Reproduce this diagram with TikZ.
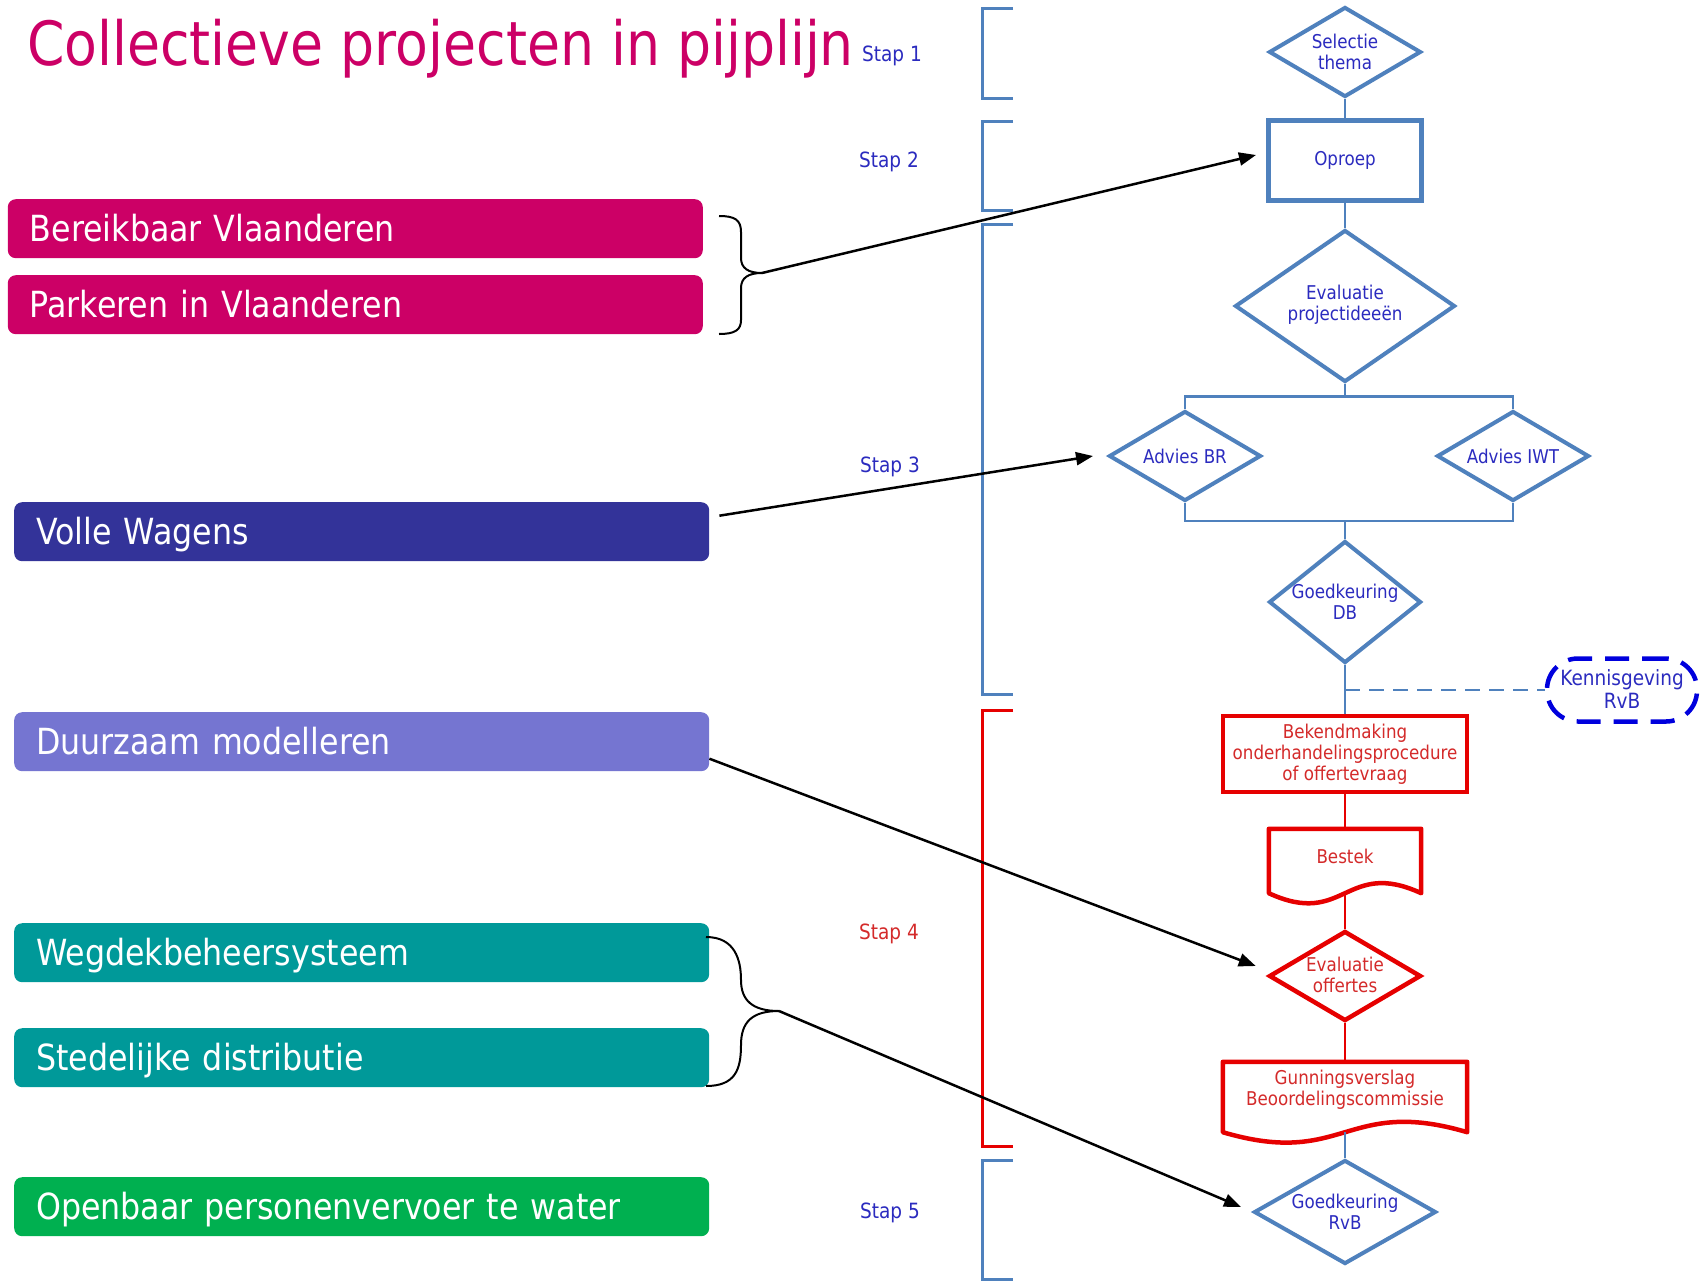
\documentclass[tikz,border=0pt]{standalone}
\usepackage{fontspec}
\setmainfont{DejaVu Sans}[FakeStretch=0.88]
\usetikzlibrary{shapes.geometric,arrows.meta,calc}
\definecolor{cmag}{HTML}{CC0066}
\definecolor{cnavy}{HTML}{333399}
\definecolor{clav}{HTML}{7575D1}
\definecolor{cteal}{HTML}{009999}
\definecolor{cgreen}{HTML}{00B050}
\definecolor{csteel}{HTML}{4F81BD}
\definecolor{ctxtblue}{HTML}{2B2BBF}
\definecolor{cred}{HTML}{E60000}
\definecolor{ctxtred}{HTML}{D42A2A}
\definecolor{ckenn}{HTML}{0000DD}
\begin{document}
\begin{tikzpicture}[x=1pt,y=-1pt,
  cbox/.style={anchor=north west, rounded corners=8pt, minimum width=695pt, minimum height=59pt,
    text width=651pt, inner xsep=22pt, inner ysep=0pt, align=left, text=white,
    font=\fontsize{36}{40}\selectfont, text height=26pt, text depth=0pt},
  staplbl/.style={font=\fontsize{21}{24}\selectfont, text=ctxtblue, inner sep=0pt},
  bdia/.style={diamond, draw=csteel, line width=4pt, inner sep=0pt},
  rdia/.style={diamond, draw=cred, line width=4.5pt, inner sep=0pt},
  btxt/.style={font=\fontsize{19}{21}\selectfont, text=ctxtblue, align=center, inner sep=0pt},
  rtxt/.style={font=\fontsize{19}{21}\selectfont, text=ctxtred, align=center, inner sep=0pt},
  bconn/.style={draw=csteel, line width=2.5pt},
  rconn/.style={draw=cred, line width=2.5pt},
  bbrk/.style={draw=csteel, line width=3pt},
  rbrk/.style={draw=cred, line width=3pt},
  arr/.style={draw=black, line width=2.5pt, -{Triangle[length=17pt,width=13pt]}},
  bracestyle/.style={draw=black, line width=2pt},
  docshape/.style={draw=cred, line width=4.5pt, line join=round}
]
\fill[white] (0,0) rectangle (1708,1282);
\useasboundingbox (0,0) rectangle (1708,1282);

% title
\node[anchor=base west, inner sep=0pt, text=cmag, font=\fontsize{61}{67}\selectfont] (title) at (27,65) {Collectieve projecten in pijplijn};

% coloured boxes
\node[cbox, fill=cmag] (bv) at (7.6,199) {Bereikbaar Vlaanderen};
\node[cbox, fill=cmag] (pv) at (7.6,275) {Parkeren in Vlaanderen};
\node[cbox, fill=cnavy] (vw) at (14,502) {Volle Wagens};
\node[cbox, fill=clav] (dm) at (14,712) {Duurzaam modelleren};
\node[cbox, fill=cteal] (wb) at (14,923) {Wegdekbeheersysteem};
\node[cbox, fill=cteal] (sd) at (14,1028) {Stedelijke distributie};
\node[cbox, fill=cgreen] (op) at (14,1177) {Openbaar personenvervoer te water};

% stap labels
\node[staplbl] (s1) at (892,56) {Stap 1};
\node[staplbl] (s2) at (889,162) {Stap 2};
\node[staplbl] (s3) at (890,467) {Stap 3};
\node[staplbl, text=ctxtred] (s4) at (889,934) {Stap 4};
\node[staplbl] (s5) at (890,1213) {Stap 5};

% brackets
\draw[bbrk] (1013,8) -- (982.5,8) -- (982.5,98) -- (1013,98);
\draw[bbrk] (1013,121) -- (982.5,121) -- (982.5,210) -- (1013,210);
\draw[bbrk] (1013,224) -- (982.5,224) -- (982.5,694) -- (1013,694);
\draw[rbrk] (1013,710) -- (982.5,710) -- (982.5,1146) -- (1013,1146);
\draw[bbrk] (1013,1160) -- (982.5,1160) -- (982.5,1279) -- (1013,1279);

% flow shapes
\node[bdia, minimum width=152pt, minimum height=90pt] (sel) at (1345,52) {};
\node[btxt] (selt) at (1345,52) {Selectie\\thema};
\node[draw=csteel, line width=5pt, minimum width=153pt, minimum height=80pt, inner sep=0pt] (opr) at (1345,160) {};
\node[btxt] (oprt) at (1345,160) {Oproep};
\node[bdia, minimum width=220pt, minimum height=152pt] (evp) at (1345,306) {};
\node[btxt] (evpt) at (1345,305) {Evaluatie\\projectideeën};
\node[bdia, minimum width=152pt, minimum height=90pt] (abr) at (1185,456) {};
\node[btxt] (abrt) at (1185,456) {Advies BR};
\node[bdia, minimum width=152pt, minimum height=90pt] (aiwt) at (1513,456) {};
\node[btxt] (aiwtt) at (1513,456) {Advies IWT};
\node[bdia, minimum width=152pt, minimum height=122pt] (gdb) at (1345,602) {};
\node[btxt] (gdbt) at (1345,602) {Goedkeuring\\DB};
\node[draw=ckenn, line width=4.5pt, dash pattern=on 24pt off 13pt, rounded corners=31pt,
      minimum width=150pt, minimum height=63pt, inner sep=0pt] (kenn) at (1622,690) {};
\node[btxt, font=\fontsize{21}{23}\selectfont] (kennt) at (1622,689) {Kennisgeving\\RvB};
\node[draw=cred, line width=4.5pt, minimum width=244pt, minimum height=76pt, inner sep=0pt] (bek) at (1345,754) {};
\node[rtxt] (bekt) at (1345,754) {Bekendmaking\\onderhandelingsprocedure\\of offertevraag};
\node[minimum width=152pt, minimum height=64pt, inner sep=0pt] (bes) at (1345,861) {};
\node[rtxt] (best) at (1345,856) {Bestek};
\node[rdia, minimum width=152pt, minimum height=90pt] (evo) at (1345,976) {};
\node[rtxt] (evot) at (1345,975) {Evaluatie\\offertes};
\node[minimum width=244pt, minimum height=70pt, inner sep=0pt] (gun) at (1345,1097) {};
\node[rtxt] (gunt) at (1345,1090) {Gunningsverslag\\Beoordelingscommissie};
\node[bdia, minimum width=182pt, minimum height=104pt] (grvb) at (1345,1212) {};
\node[btxt] (grvbt) at (1345,1212) {Goedkeuring\\RvB};

% document shapes
\draw[docshape] (bes.south west) -- (bes.north west) -- (bes.north east) -- (bes.south east)
  .. controls ($(bes.south east)+(-76,-35)$) and ($(bes.south west)+(76,35)$) .. (bes.south west) -- cycle;
\draw[docshape] (gun.south west) -- (gun.north west) -- (gun.north east) -- (gun.south east)
  .. controls ($(gun.south east)+(-122,-36)$) and ($(gun.south west)+(122,36)$) .. (gun.south west) -- cycle;

% connectors
\coordinate (splitL) at (1185,396.5);
\coordinate (splitR) at (1513,396.5);
\coordinate (mergeL) at (1185,521);
\coordinate (mergeR) at (1513,521);
\draw[bconn] (sel.south) -- (opr.north);
\draw[bconn] (opr.south) -- (evp.north);
\draw[bconn] (evp.south) -- (evp.south |- splitL);
\draw[bconn] (abr.north) -- (splitL) -- (splitR) -- (aiwt.north);
\draw[bconn] (abr.south) -- (mergeL) -- (mergeR) -- (aiwt.south);
\draw[bconn] (gdb.north |- mergeL) -- (gdb.north);
\draw[bconn] (gdb.south) -- (bek.north);
\coordinate (kj) at (gdb.south |- kenn.west);
\draw[bconn, dash pattern=on 15pt off 9pt] (kj) -- (kenn.west);
\draw[rconn] (bek.south) -- (bes.north);
\draw[rconn] (bes.south) -- (evo.north);
\draw[rconn] (evo.south) -- (gun.north);
\draw[bconn] (gun.south) -- (grvb.north);

% braces
\coordinate (tipA) at (762,273);
\draw[bracestyle] (719,216) .. controls (735,216) and (741,220) .. (741,232) -- (741,258)
  .. controls (741,268) and (748,273) .. (tipA);
\draw[bracestyle] (tipA) .. controls (748,273) and (741,278) .. (741,288) -- (741,320)
  .. controls (741,330) and (735,334) .. (719,334);
\coordinate (tipB) at (779,1011);
\draw[bracestyle] (706,937) .. controls (735,937) and (741,960) .. (741,980)
  .. controls (741,1000) and (752,1011) .. (tipB);
\draw[bracestyle] (tipB) .. controls (752,1011) and (741,1022) .. (741,1045)
  .. controls (741,1070) and (735,1086) .. (706,1086);

% arrows
\draw[arr] (tipA) -- ($(opr.west)+(-10,-5)$);
\draw[arr] ($(vw.east)+(10,-16)$) -- ($(abr.west)+(-14,0)$);
\draw[arr] ($(dm.east)+(0,17)$) -- ($(evo.west)+(-11,-10)$);
\draw[arr] (tipB) -- ($(grvb.west)+(-11,-5)$);
\end{tikzpicture}
\end{document}
